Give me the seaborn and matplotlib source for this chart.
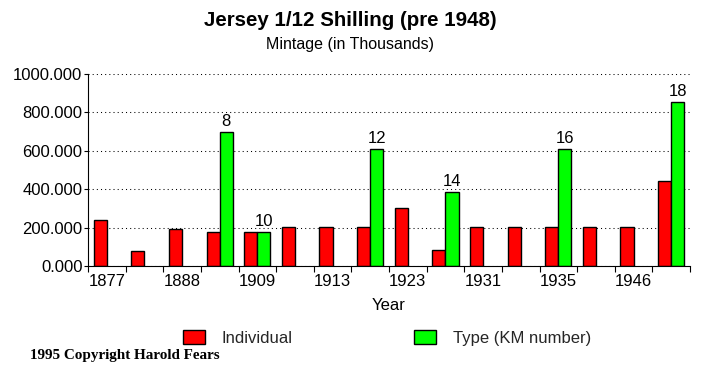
import numpy as np
import pandas as pd
import matplotlib
matplotlib.use("Agg")
import matplotlib.pyplot as plt
import seaborn as sns
from matplotlib.patches import Patch
from matplotlib.ticker import FormatStrFormatter

# ---- data ----
years = ["1877", "1881", "1888", "1894", "1909", "1911", "1913", "1917",
         "1923", "1926", "1931", "1933", "1935", "1937", "1946", "1947"]
tick_labels = ["1877", "", "1888", "", "1909", "", "1913", "",
               "1923", "", "1931", "", "1935", "", "1946", ""]
individual = [240, 78, 193, 177, 177, 203, 203, 203,
              302, 83, 203, 203, 203, 203, 203, 443]
type_km = [np.nan, np.nan, np.nan, 700, 177, np.nan, np.nan, 609,
           np.nan, 385, np.nan, np.nan, 609, np.nan, np.nan, 854]
km_numbers = ["8", "10", "12", "14", "16", "18"]
series = ["Individual", "Type (KM number)"]
colors = {"Individual": "#ff0000", "Type (KM number)": "#00ff00"}
yticks = [0, 200, 400, 600, 800, 1000]

sns.set_theme(style="white")
plt.rcParams['font.family'] = ['Liberation Sans', 'DejaVu Sans']

df = pd.DataFrame({
    "Year": years * 2,
    "Mintage": individual + type_km,
    "Series": [series[0]] * len(years) + [series[1]] * len(years),
}).dropna()

W, H = 717, 370
fig = plt.figure(figsize=(W / 100, H / 100), dpi=100)
ax = fig.add_axes([88 / W, 1 - 266 / H, (690 - 88) / W, (266 - 74) / H])

sns.barplot(data=df, x="Year", y="Mintage", hue="Series", order=years,
            hue_order=series, palette=colors, saturation=1, width=0.7,
            edgecolor="black", linewidth=1, errorbar=None, legend=False, ax=ax)

# KM number labels above green bars
green = sorted([p for p in ax.containers[1]], key=lambda p: p.get_x())
for p, lab in zip(green, km_numbers):
    ax.annotate(lab, (p.get_x() + p.get_width() / 2, p.get_height()),
                xytext=(0, 2), textcoords="offset points",
                ha="center", va="bottom", fontsize=12, color="black")

ax.set_xlim(-0.5, len(years) - 0.5)
ax.set_ylim(0, 1000)
ax.set_xticks(range(len(years)))
ax.set_xticklabels(tick_labels, fontsize=12, color="black")
ax.set_xticks(np.arange(-0.5, len(years), 1), minor=True)
ax.tick_params(axis="x", which="major", length=0, pad=6)
ax.tick_params(axis="x", which="minor", length=4, width=0.8, color="black",
               direction="out", bottom=True)
ax.set_yticks(yticks)
ax.yaxis.set_major_formatter(FormatStrFormatter("%.3f"))
ax.tick_params(axis="y", length=3, width=0.8, color="black", direction="out",
               labelsize=12, labelcolor="black", pad=1, left=True)
ax.yaxis.grid(True, color="black", linestyle=(0, (1, 3)), linewidth=0.75)
ax.set_axisbelow(True)
for s in ["top", "right"]:
    ax.spines[s].set_visible(False)
for s in ["left", "bottom"]:
    ax.spines[s].set_color("black")
    ax.spines[s].set_linewidth(0.8)
ax.set_xlabel("")
ax.set_ylabel("")

fig.text(350 / W, 1 - 21 / H, "Jersey 1/12 Shilling (pre 1948)",
         ha="center", va="center", fontsize=14.8, fontweight="bold", color="black")
fig.text(350 / W, 1 - 44 / H, "Mintage (in Thousands)",
         ha="center", va="center", fontsize=11.5, color="black")
fig.text(389 / W, 1 - 305 / H, "Year", ha="center", va="center",
         fontsize=12, color="black")

handles = [Patch(facecolor=colors[s], edgecolor="black", linewidth=1) for s in series]
fig.legend(handles, series, loc="center left",
           bbox_to_anchor=(183 / W, 1 - 338 / H), ncol=2, frameon=False,
           fontsize=12, handlelength=1.32, handleheight=0.9,
           handletextpad=1.0, columnspacing=7.3, borderpad=0, borderaxespad=0)

fig.text(30 / W, 1 - 355 / H, "1995 Copyright Harold Fears",
         ha="left", va="center", fontsize=10.9, fontweight="bold",
         family=["Liberation Serif", "DejaVu Serif"], color="black")

fig.savefig("out.png", dpi=100)
